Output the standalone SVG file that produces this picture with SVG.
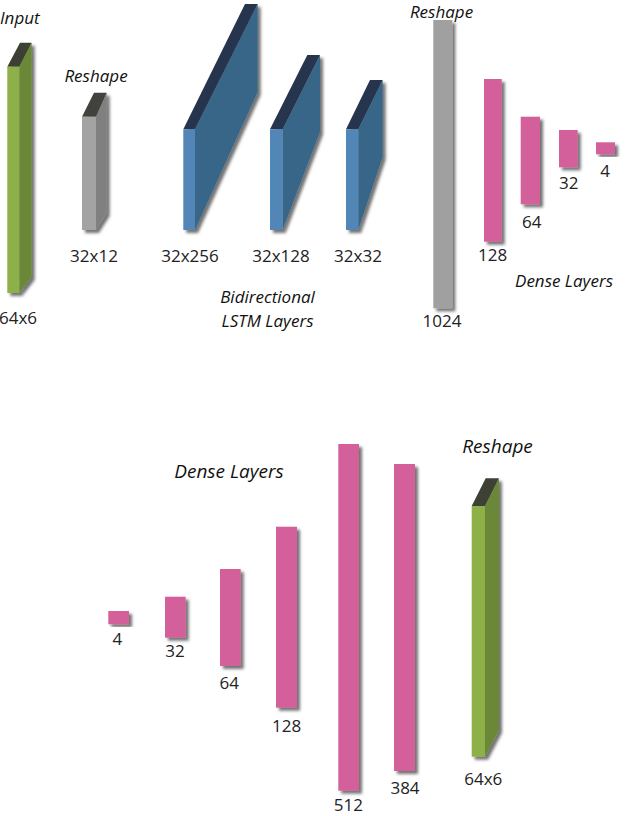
<svg xmlns="http://www.w3.org/2000/svg" width="626" height="816" viewBox="0 0 626 816">
<defs>
<filter id="sh" x="-50%" y="-20%" width="200%" height="140%">
<feDropShadow dx="3" dy="3" stdDeviation="1.6" flood-color="#000" flood-opacity="0.55"/>
</filter>
<style>
.lbl{font-family:"Open Sans","DejaVu Sans",sans-serif;font-size:17px;fill:#222;text-anchor:middle}
.it{font-family:"Open Sans","DejaVu Sans",sans-serif;font-style:italic;font-size:17px;fill:#111;text-anchor:middle}
.itb{font-size:19px}
.gf{fill:#8db04a}.gs{fill:#6a8838}.gt{fill:#3c4136}
.yf{fill:#a3a3a3}.ys{fill:#808080}.yt{fill:#3f423b}
.bf{fill:#5186b7}.bs{fill:#386689}.bt{fill:#27344d}
.pk{fill:#d3609a}
.blk{filter:url(#sh)}
</style>
</defs>
<rect width="626" height="816" fill="#fff"/>

<g id="input">
<g class="blk">
<polygon class="gt" points="7.3,66.7 19.3,66.7 31.7,42.7 20,42.7"/>
<polygon class="gs" points="19.3,66.7 31.7,42.7 31.7,277 19.3,293"/>
<rect class="gf" x="7.3" y="66.7" width="12" height="226.3"/>
</g>
<text class="it" x="0" y="24" style="text-anchor:start">Input</text>
<text class="lbl" x="-1" y="324" style="text-anchor:start">64x6</text>
</g>

<g id="reshape1">
<g class="blk">
<polygon class="yt" points="82,116.7 96,116.7 106.7,92.7 94,92.7"/>
<polygon class="ys" points="96,116.7 106.7,92.7 106.7,213 96,230"/>
<rect class="yf" x="82" y="116.7" width="14" height="113.3"/>
</g>
<text class="it" x="96" y="82">Reshape</text>
<text class="lbl" x="94" y="262">32x12</text>
</g>

<g id="lstm1">
<g class="blk">
<polygon class="bt" points="183.3,129.3 195,129.3 257.7,4 245,4"/>
<polygon class="bs" points="195,129.3 257.7,4 257.7,92 195,230"/>
<rect class="bf" x="183.3" y="129.3" width="11.7" height="100.7"/>
</g>
<text class="lbl" x="190" y="262">32x256</text>
</g>

<g id="lstm2">
<g class="blk">
<polygon class="bt" points="270,129.3 282.7,129.3 320,55 307.3,55"/>
<polygon class="bs" points="282.7,129.3 320,55 320,131.7 282.7,230"/>
<rect class="bf" x="270" y="129.3" width="12.7" height="100.7"/>
</g>
<text class="lbl" x="281" y="262">32x128</text>
</g>

<g id="lstm3">
<g class="blk">
<polygon class="bt" points="346,129.3 358.3,129.3 382.7,80 370,80"/>
<polygon class="bs" points="358.3,129.3 382.7,80 382.7,156.7 358.3,230"/>
<rect class="bf" x="346" y="129.3" width="12.3" height="100.7"/>
</g>
<text class="lbl" x="358" y="262">32x32</text>
</g>

<g id="lstm-label">
<text class="it" x="267.5" y="303">Bidirectional</text>
<text class="it" x="267.5" y="327">LSTM Layers</text>
</g>

<g id="reshape2">
<rect class="blk" x="433.3" y="20" width="19" height="288.3" fill="#a0a0a0"/>
<text class="it" x="441.5" y="18">Reshape</text>
<text class="lbl" x="442" y="327">1024</text>
</g>

<g id="dense-e128">
<rect class="pk blk" x="484" y="79" width="17.7" height="162.7"/>
<text class="lbl" x="492.7" y="261">128</text>
</g>
<g id="dense-e64">
<rect class="pk blk" x="520.7" y="116.7" width="19.3" height="87.6"/>
<text class="lbl" x="531.7" y="228">64</text>
</g>
<g id="dense-e32">
<rect class="pk blk" x="559" y="130" width="18.7" height="37.3"/>
<text class="lbl" x="568.7" y="189">32</text>
</g>
<g id="dense-e4">
<rect class="pk blk" x="596" y="142.3" width="19" height="12"/>
<text class="lbl" x="605" y="176.7">4</text>
</g>
<g id="dense-label-top">
<text class="it" x="564" y="287">Dense Layers</text>
</g>

<g id="dense-label-bottom">
<text class="it itb" x="229" y="478">Dense Layers</text>
</g>

<g id="dense-d4">
<rect class="pk blk" x="108.3" y="611" width="20.7" height="13.3"/>
<text class="lbl" x="117.3" y="645">4</text>
</g>
<g id="dense-d32">
<rect class="pk blk" x="165" y="596.7" width="20.7" height="41"/>
<text class="lbl" x="175" y="657.3">32</text>
</g>
<g id="dense-d64">
<rect class="pk blk" x="220" y="569" width="20.7" height="97"/>
<text class="lbl" x="229.3" y="689.3">64</text>
</g>
<g id="dense-d128">
<rect class="pk blk" x="276" y="526.7" width="21" height="181"/>
<text class="lbl" x="286.7" y="731.7">128</text>
</g>
<g id="dense-d512">
<rect class="pk blk" x="338.3" y="444" width="20.7" height="346.7"/>
<text class="lbl" x="348.3" y="811">512</text>
</g>
<g id="dense-d384">
<rect class="pk blk" x="394" y="464" width="21" height="307"/>
<text class="lbl" x="405" y="794">384</text>
</g>

<g id="output">
<g class="blk">
<polygon class="gt" points="471.7,506 485,506 499,478.3 485.7,478.3"/>
<polygon class="gs" points="485,506 499,478.3 499,730 485,756.7"/>
<rect class="gf" x="471.7" y="506" width="13.3" height="250.7"/>
</g>
<text class="it itb" x="497.5" y="453">Reshape</text>
<text class="lbl" x="483.3" y="785">64x6</text>
</g>
</svg>
